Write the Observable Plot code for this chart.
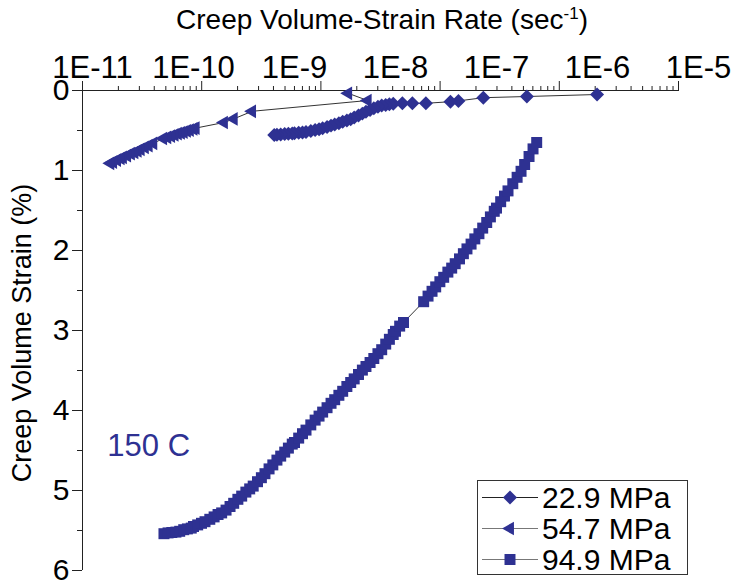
<!DOCTYPE html>
<html><head><meta charset="utf-8">
<script src="https://cdn.jsdelivr.net/npm/d3@7"></script>
<script src="https://cdn.jsdelivr.net/npm/@observablehq/plot@0.6"></script>
<style>
body{margin:0;background:#fff;font-family:"Liberation Sans",Arial,sans-serif;}
#wrap{position:relative;width:733px;height:586px;overflow:hidden;}
.layer{position:absolute;left:0;top:0;}
#title{position:absolute;left:0;top:6px;width:733px;box-sizing:border-box;padding-left:31px;text-align:center;font-size:28px;line-height:1;color:#000;white-space:nowrap;}
#title sup{font-size:17px;line-height:0;vertical-align:10px;}
#ylabel{position:absolute;left:-128px;top:318px;width:300px;height:30px;line-height:30px;text-align:center;font-size:27px;color:#000;transform:rotate(-90deg);transform-origin:50% 50%;white-space:nowrap;}
#legend{position:absolute;left:477px;top:480px;width:211px;height:95px;border:1px solid #333;background:#fff;box-sizing:border-box;padding-top:0.5px;}
#legend .row{height:31px;display:flex;align-items:center;}
#legend svg{flex:none;display:block;}
#legend span{font-size:30px;line-height:31px;color:#000;white-space:nowrap;}
</style></head>
<body>
<div id="wrap">
  <div id="title">Creep Volume-Strain Rate (sec<sup>-1</sup>)</div>
  <div id="ylabel">Creep Volume Strain (%)</div>
</div>
<script>
// ---------- data ----------
const seriesNames = ["22.9 MPa", "54.7 MPa", "94.9 MPa"];
const xTickValues = [1e-11, 1e-10, 1e-9, 1e-8, 1e-7, 1e-6, 1e-5];
const xTickLabels = ["1E-11", "1E-10", "1E-9", "1E-8", "1E-7", "1E-6", "1E-5"];
const yTickValues = [0, 1, 2, 3, 4, 5, 6];
const yTickLabels = ["0", "1", "2", "3", "4", "5", "6"];
const yMinorTicks = [0.5, 1.5, 2.5, 3.5, 4.5, 5.5];
const axisMajorTicks = [1e-11, 1e-10, 1e-9, 1e-8, 1e-7, 1e-6];
const axisMinorTicks = [2e-11,3e-11,4e-11,5e-11,6e-11,7e-11,8e-11,9e-11,
  2e-10,3e-10,4e-10,5e-10,6e-10,7e-10,8e-10,9e-10,
  2e-9,3e-9,4e-9,5e-9,6e-9,7e-9,8e-9,9e-9,
  2e-8,3e-8,4e-8,5e-8,6e-8,7e-8,8e-8,9e-8,
  2e-7,3e-7,4e-7,5e-7,6e-7,7e-7,8e-7,9e-7];

// 22.9 MPa (diamonds)
const diaRate = [9.9e-7, 2.0e-7, 7.4e-8, 4.2e-8, 3.5e-8, 2.0e-8, 1.47e-8, 1.17e-8,
  9.5e-9, 8.7e-9, 8.0e-9, 7.3e-9, 6.7e-9, 6.1e-9, 5.6e-9, 5.1e-9, 4.7e-9, 4.3e-9,
  3.9e-9, 3.6e-9, 3.3e-9, 3.0e-9, 2.75e-9, 2.5e-9, 2.3e-9, 2.1e-9, 1.9e-9, 1.75e-9,
  1.6e-9, 1.45e-9, 1.3e-9, 1.2e-9, 1.1e-9, 1.0e-9,
  9.5e-10, 8.7e-10, 8.0e-10, 7.3e-10, 6.7e-10, 6.3e-10];
const diaStrain = [0.05, 0.075, 0.09, 0.13, 0.14, 0.16, 0.16, 0.16,
  0.166, 0.172, 0.18, 0.188, 0.203, 0.223, 0.243, 0.267, 0.289, 0.313,
  0.338, 0.359, 0.375, 0.392, 0.409, 0.425, 0.439, 0.455, 0.471, 0.484,
  0.494, 0.505, 0.519, 0.524, 0.529, 0.535,
  0.538, 0.542, 0.545, 0.549, 0.553, 0.555];

// 54.7 MPa (left triangles)
const triRate = [3.4e-9, 5.3e-9, 3.8e-10, 2.5e-10, 2.0e-10, 1.05e-10, 1.0e-10, 9.2e-11,
  8.6e-11, 8.0e-11, 7.5e-11, 7.0e-11, 6.5e-11, 6.0e-11, 5.5e-11, 5.0e-11,
  4.0e-11, 3.6e-11, 3.3e-11, 3.0e-11, 2.8e-11, 2.6e-11, 2.4e-11, 2.2e-11,
  2.0e-11, 1.9e-11, 1.75e-11, 1.6e-11, 1.5e-11];
const triStrain = [0.035, 0.125, 0.26, 0.355, 0.40, 0.47, 0.48, 0.495,
  0.505, 0.52, 0.53, 0.54, 0.555, 0.57, 0.585, 0.60,
  0.66, 0.69, 0.71, 0.735, 0.755, 0.775, 0.79, 0.815,
  0.835, 0.85, 0.87, 0.895, 0.91];

// 94.9 MPa (squares)
const sqRate = [5.1e-11, 5.6e-11, 6.1e-11, 6.7e-11, 7.3e-11, 8.0e-11, 8.7e-11, 9.5e-11,
  1.0e-10, 1.1e-10, 1.2e-10, 1.3e-10, 1.45e-10, 1.6e-10, 1.75e-10, 1.9e-10, 2.1e-10, 2.3e-10,
  2.5e-10, 2.75e-10, 3.0e-10, 3.3e-10, 3.6e-10, 3.9e-10, 4.3e-10, 4.7e-10, 5.1e-10, 5.6e-10,
  6.1e-10, 6.7e-10, 7.3e-10, 8.0e-10, 8.7e-10, 9.5e-10,
  1.0e-9, 1.1e-9, 1.2e-9, 1.3e-9, 1.45e-9, 1.6e-9, 1.75e-9, 1.9e-9, 2.1e-9, 2.3e-9,
  2.5e-9, 2.75e-9, 3.0e-9, 3.3e-9, 3.6e-9, 3.9e-9, 4.3e-9, 4.7e-9, 5.1e-9, 5.6e-9,
  6.1e-9, 6.7e-9, 7.3e-9, 8.0e-9, 8.7e-9, 9.5e-9,
  1.0e-8, 1.1e-8, 1.2e-8, 1.9e-8, 2.1e-8, 2.3e-8, 2.5e-8, 2.75e-8, 3.0e-8, 3.3e-8,
  3.6e-8, 3.9e-8, 4.3e-8, 4.7e-8, 5.1e-8, 5.6e-8, 6.1e-8, 6.7e-8, 7.3e-8, 8.0e-8, 8.7e-8, 9.5e-8,
  1.0e-7, 1.1e-7, 1.2e-7, 1.3e-7, 1.45e-7, 1.6e-7, 1.75e-7, 1.9e-7, 2.1e-7, 2.3e-7, 2.5e-7];
const sqStrain = [5.54, 5.53, 5.525, 5.52, 5.51, 5.49, 5.48, 5.47,
  5.45, 5.43, 5.41, 5.39, 5.36, 5.33, 5.30, 5.28, 5.245, 5.20,
  5.16, 5.11, 5.07, 5.02, 4.98, 4.945, 4.89, 4.84, 4.79, 4.73,
  4.68, 4.62, 4.57, 4.52, 4.47, 4.42,
  4.40, 4.345, 4.29, 4.245, 4.18, 4.12, 4.07, 4.02, 3.965, 3.91,
  3.865, 3.81, 3.76, 3.70, 3.65, 3.605, 3.55, 3.495, 3.45, 3.40,
  3.35, 3.29, 3.24, 3.17, 3.11, 3.05,
  3.01, 2.945, 2.90, 2.64, 2.57, 2.51, 2.455, 2.39, 2.335, 2.27,
  2.22, 2.165, 2.105, 2.04, 1.98, 1.92, 1.855, 1.79, 1.72, 1.65, 1.58, 1.51,
  1.47, 1.39, 1.32, 1.255, 1.165, 1.085, 1.01, 0.925, 0.825, 0.73, 0.65];

const noteText = "150 C";
const noteRate = 3.6e-11;
const noteStrain = 4.45;

// ---------- styles ----------
const NAVY = "#2E3192";
const LINE = "#333333";
const FONT = "'Liberation Sans', Arial, sans-serif";
const W = 733, H = 586;

// left-pointing triangle symbol
const triangleLeft = {
  draw(ctx, size) {
    const a = Math.sqrt(size) * 1.23;
    const h = a * Math.sqrt(3) / 2;
    ctx.moveTo(-2 * h / 3, 0);
    ctx.lineTo(h / 3, -a / 2);
    ctx.lineTo(h / 3, a / 2);
    ctx.closePath();
  }
};
const symbols = [d3.symbolDiamond2, triangleLeft, d3.symbolSquare];
const radii = [6.3, 6.3, 6.2];
const legendLineColors = ["#222", "#777", "#777"];

const zip = (xs, ys) => xs.map((x, i) => ({rate: x, strain: ys[i]}));
const dia = zip(diaRate, diaStrain);
const tri = zip(triRate, triStrain);
const sq = zip(sqRate, sqStrain);

// frame layer: axis lines, ticks, y tick labels
const frame = Plot.plot({
  width: W, height: H,
  marginLeft: 82, marginRight: 55, marginTop: 90, marginBottom: 16,
  style: {fontFamily: FONT, fontSize: "30px", color: "#000", background: "transparent"},
  x: {type: "log", domain: [1e-11, 1e-6]},
  y: {domain: [0, 6], reverse: true},
  marks: [
    Plot.axisX({anchor: "top", ticks: axisMajorTicks, tickSize: 10, tickFormat: () => "", label: null, stroke: "#222"}),
    Plot.axisX({anchor: "top", ticks: axisMinorTicks, tickSize: 5, tickFormat: () => "", label: null, stroke: "#222"}),
    Plot.axisY({anchor: "left", ticks: yTickValues, tickSize: 10, tickPadding: 3, fontSize: 30,
      tickFormat: d => yTickLabels[yTickValues.indexOf(d)], label: null, stroke: "#222"}),
    Plot.axisY({anchor: "left", ticks: yMinorTicks, tickSize: 5, tickFormat: () => "", label: null, stroke: "#222"}),
    Plot.ruleY([0], {x1: 1e-11, x2: 1e-6, stroke: "#222"}),
    Plot.ruleX([1e-11], {y1: 0, y2: 6, stroke: "#222"})
  ]
});

// data layer
const main = Plot.plot({
  width: W, height: H,
  marginLeft: 92, marginRight: 35, marginTop: 90, marginBottom: 16,
  style: {fontFamily: FONT, fontSize: "31px", color: "#000", background: "transparent"},
  x: {type: "log", domain: [1e-11, 1e-5]},
  y: {domain: [0, 6], reverse: true, axis: null},
  marks: [
    Plot.axisX({anchor: "top", ticks: xTickValues, tickSize: 0, tickPadding: 13, fontSize: 31,
      tickFormat: d => xTickLabels[xTickValues.findIndex(v => Math.abs(v - d) / v < 1e-6)], label: null}),
    Plot.line(sq, {x: "rate", y: "strain", stroke: LINE, strokeWidth: 1}),
    Plot.line(tri, {x: "rate", y: "strain", stroke: LINE, strokeWidth: 1}),
    Plot.line(dia, {x: "rate", y: "strain", stroke: LINE, strokeWidth: 1}),
    Plot.dot(sq, {x: "rate", y: "strain", symbol: symbols[2], r: radii[2], fill: NAVY, stroke: null}),
    Plot.dot(tri, {x: "rate", y: "strain", symbol: symbols[1], r: radii[1], fill: NAVY, stroke: null}),
    Plot.dot(dia, {x: "rate", y: "strain", symbol: symbols[0], r: radii[0], fill: NAVY, stroke: null}),
    Plot.text([{rate: noteRate, strain: noteStrain, label: noteText}],
      {x: "rate", y: "strain", text: "label", fill: NAVY, fontSize: 31, textAnchor: "middle"})
  ]
});

const wrap = document.getElementById("wrap");
frame.classList.add("layer");
main.classList.add("layer");
wrap.insertBefore(frame, wrap.firstChild);
wrap.insertBefore(main, document.getElementById("title"));

// legend
const legend = document.createElement("div");
legend.id = "legend";
seriesNames.forEach((name, i) => {
  const row = document.createElement("div");
  row.className = "row";
  const path = d3.symbol(symbols[i], Math.PI * radii[i] * radii[i])();
  row.innerHTML = `<svg width="64" height="31"><line x1="4" x2="60" y1="15.5" y2="15.5" stroke="${legendLineColors[i]}" stroke-width="1"/><path transform="translate(32,15.5)" d="${path}" fill="${NAVY}"/></svg><span>${name}</span>`;
  legend.appendChild(row);
});
wrap.appendChild(legend);
</script>
</body></html>
